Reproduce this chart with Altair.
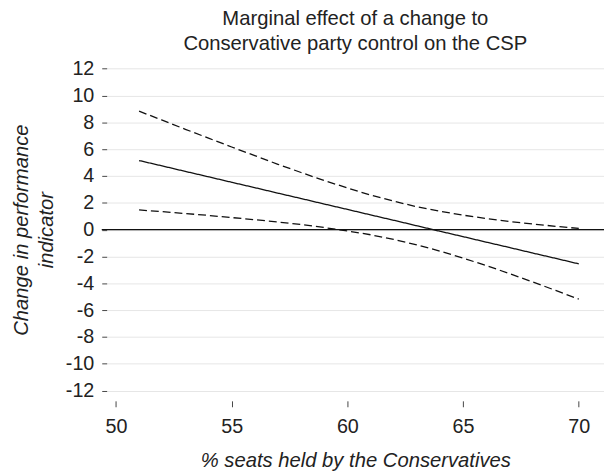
import altair as alt
import pandas as pd

# % seats held by the Conservatives (x positions of the curves)
seats = [51, 52, 53, 54, 55, 56, 57, 58, 59, 60,
         61, 62, 63, 64, 65, 66, 67, 68, 69, 70]
# marginal effect (solid line)
effect = [5.15, 4.75, 4.34, 3.94, 3.53, 3.13, 2.72, 2.32, 1.91, 1.51,
          1.10, 0.70, 0.29, -0.12, -0.52, -0.93, -1.33, -1.74, -2.14, -2.55]
# upper confidence bound (dashed)
upper = [8.83, 8.16, 7.48, 6.82, 6.16, 5.52, 4.87, 4.26, 3.66, 3.11,
         2.58, 2.12, 1.71, 1.37, 1.08, 0.83, 0.61, 0.42, 0.25, 0.09]
# lower confidence bound (dashed)
lower = [1.47, 1.34, 1.20, 1.06, 0.90, 0.74, 0.57, 0.38, 0.16, -0.10,
         -0.38, -0.73, -1.13, -1.60, -2.12, -2.68, -3.27, -3.89, -4.53, -5.18]

x_ticks = [50, 55, 60, 65, 70]
y_ticks = [-12, -10, -8, -6, -4, -2, 0, 2, 4, 6, 8, 10, 12]
zero_line = [0]

FONT = "Liberation Sans"
TXT = "#222222"

df = pd.DataFrame({"seats": seats, "effect": effect, "upper": upper, "lower": lower})
zero_df = pd.DataFrame({"value": zero_line})

x_enc = alt.X(
    "seats:Q",
    scale=alt.Scale(domain=[49.6, 71.09], nice=False, zero=False),
    axis=alt.Axis(
        values=x_ticks, title="% seats held by the Conservatives",
        grid=False, domain=False, tickSize=6, tickColor="#444444", tickWidth=1,
        labelFontSize=20, labelFont=FONT, labelColor=TXT, labelPadding=10,
        labelOverlap=False,
        titleFontSize=20.5, titleFont=FONT, titleColor=TXT, titleFontStyle="italic",
        titleFontWeight="normal", titlePadding=15,
    ),
)

y_scale = alt.Scale(domain=[-12.76, 12.76], nice=False, zero=False)
y_axis = alt.Axis(
    values=y_ticks, title=["Change in performance", "indicator"],
    grid=True, gridColor="#e6e6e6", gridWidth=1, domain=False,
    tickSize=5, tickColor="#444444", tickWidth=1,
    labelFontSize=20, labelFont=FONT, labelColor=TXT, labelPadding=8,
    labelOverlap=False, labelExpr="'' + datum.value",
    titleFontSize=20.5, titleFont=FONT, titleColor=TXT, titleFontStyle="italic",
    titleFontWeight="normal", titlePadding=9, titleLineHeight=25,
)

zero = (
    alt.Chart(zero_df)
    .mark_rule(color="#111111", strokeWidth=1.3)
    .encode(
        y=alt.Y("value:Q", scale=y_scale, axis=y_axis),
        x=alt.value(-5), x2=alt.value(504),
    )
)

lines = (
    alt.Chart(df)
    .transform_fold(["effect", "upper", "lower"], as_=["series", "value"])
    .mark_line(color="#111111", strokeWidth=1.3)
    .encode(
        x=x_enc,
        y=alt.Y("value:Q", scale=y_scale, axis=y_axis),
        strokeDash=alt.StrokeDash(
            "series:N",
            scale=alt.Scale(domain=["effect", "upper", "lower"],
                            range=[[1, 0], [8, 4], [8, 4]]),
            legend=None,
        ),
        detail="series:N",
    )
)

chart = (
    alt.layer(zero, lines)
    .properties(
        width=504, height=347,
        title=alt.Title(
            ["Marginal effect of a change to", "Conservative party control on the CSP"],
            fontSize=20.5, font=FONT, fontWeight="normal", color=TXT,
            lineHeight=25, offset=4, frame="group", anchor="middle",
        ),
        padding={"left": 100, "top": 48, "right": 0, "bottom": 70},
        autosize=alt.AutoSizeParams(type="none"),
    )
    .configure_view(stroke=None)
)

chart.save("out.html", embed_options={"renderer": "svg", "actions": False})
